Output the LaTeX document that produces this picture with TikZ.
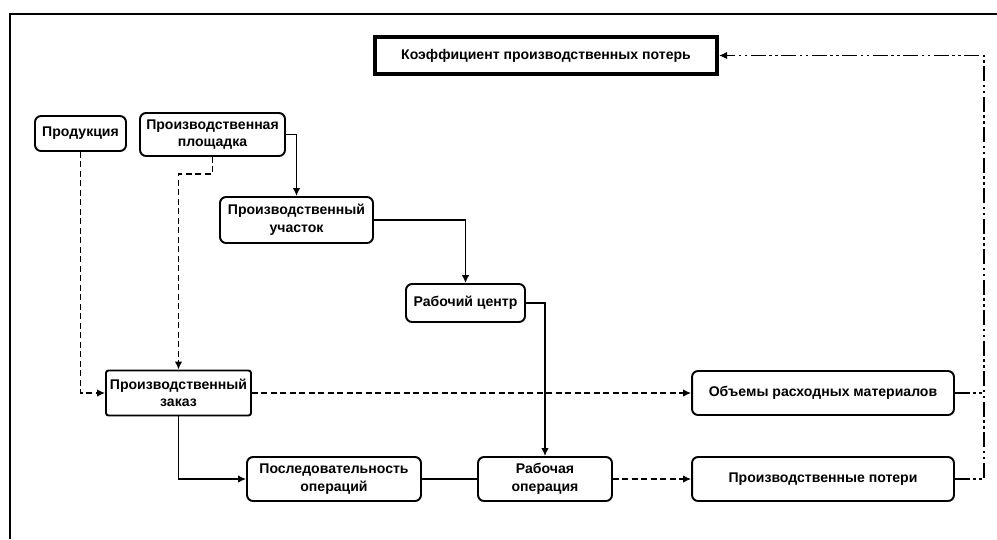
\documentclass[tikz,border=0pt]{standalone}
\usepackage{fontspec}
\setmainfont{Liberation Sans}
\usetikzlibrary{arrows.meta}
\tikzstyle{blok}=[draw,line width=1.1pt,rounded corners=1.2mm,align=center,inner sep=1pt,font=\fontsize{8}{10}\selectfont\bfseries]
\tikzstyle{glavnyj}=[draw,line width=2.4pt,align=center,inner sep=1pt,font=\fontsize{8}{10}\selectfont\bfseries]
\tikzstyle{strelka}=[line width=0.8pt,-{Latex[length=1.6mm,width=1.5mm]}]
\tikzstyle{shtrih}=[dash pattern=on 1.2mm off 0.7mm]
\tikzstyle{shtrihpunktir}=[dash pattern=on 3mm off 0.7mm on 0.5mm off 0.7mm on 0.5mm off 0.7mm]

\begin{document}
\begin{tikzpicture}[x=0.02cm,y=-0.02cm]
    \useasboundingbox (0,0) rectangle (997,539);
    \draw[line width=1.2pt] (10,539) -- (10,14) -- (997,14);
    \node[glavnyj,minimum width=6.84cm,minimum height=0.74cm] (koef) at (546,55.5) {Коэффициент производственных потерь};
    \node[blok,minimum width=1.82cm,minimum height=0.70cm] (produkciya) at (80.5,133.5) {Продукция};
    \node[blok,minimum width=2.90cm,minimum height=0.86cm] (ploshchadka) at (212.5,134.5) {Производственная\\площадка};
    \node[blok,minimum width=3.06cm,minimum height=0.92cm] (uchastok) at (296.5,220) {Производственный\\участок};
    \node[blok,minimum width=2.38cm,minimum height=0.76cm] (centr) at (465.5,303) {Рабочий центр};
    \node[blok,rounded corners=0.5mm,minimum width=2.90cm,minimum height=0.90cm] (zakaz) at (178.5,393) {Производственный\\заказ};
    \node[blok,minimum width=3.48cm,minimum height=0.88cm] (posl) at (334,479) {Последовательность\\операций};
    \node[blok,minimum width=2.68cm,minimum height=0.88cm] (operaciya) at (545,479) {Рабочая\\операция};
    \node[blok,minimum width=5.24cm,minimum height=0.88cm] (obem) at (823,393) {Объемы расходных материалов};
    \node[blok,minimum width=5.24cm,minimum height=0.88cm] (poteri) at (823,479) {Производственные потери};
    \coordinate (ugol) at (984,55.5);
    % sploshnye svyazi
    \draw[strelka] (ploshchadka.east) -| (uchastok.north);
    \draw[strelka] (uchastok.east) -| (centr.north);
    \draw[strelka] (centr.east) -| (operaciya.north);
    \draw[strelka] (zakaz.south) |- (posl.west);
    \draw[line width=0.8pt] (posl.east) -- (operaciya.west);
    % shtrihovye svyazi
    \draw[strelka,shtrih] (produkciya.south) |- (zakaz.west);
    \draw[strelka,shtrih] (ploshchadka.south) -- ++(0,17) -| (zakaz.north);
    \draw[strelka,shtrih] (zakaz.east) -- (obem.west);
    \draw[strelka,shtrih] (operaciya.east) -- (poteri.west);
    % k koefficientu
    \draw[strelka,shtrihpunktir] (poteri.east) -| (ugol) -- (koef.east);
    \draw[line width=0.8pt,shtrihpunktir] (obem.east) -- (obem.east -| ugol);
\end{tikzpicture}
\end{document}
